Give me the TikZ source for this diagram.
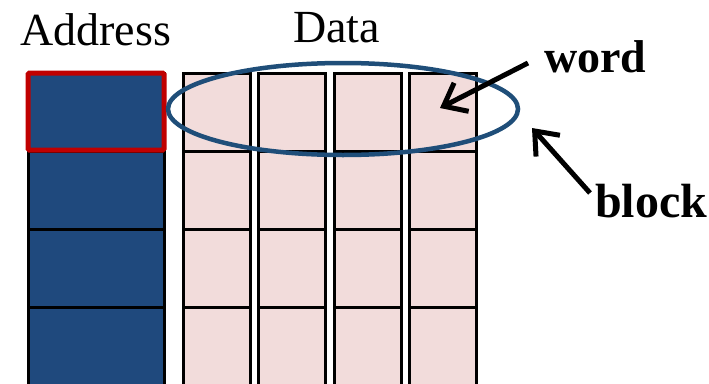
\documentclass[tikz,border=0pt]{standalone}
\usepackage{fontspec}
\setmainfont{Liberation Serif}
\usetikzlibrary{arrows.meta,shapes.geometric}
\definecolor{addrblue}{HTML}{1F497D}
\definecolor{ringblue}{HTML}{1F4E79}
\definecolor{cellpink}{HTML}{F2DCDB}
\definecolor{selred}{HTML}{C00000}
\tikzset{
  addrcell/.style={draw=black, line width=3pt, fill=addrblue, minimum width=136pt, minimum height=78pt, inner sep=0pt},
  datacell/.style={draw=black, line width=3pt, fill=cellpink, minimum width=67pt, minimum height=78pt, inner sep=0pt},
  selbox/.style={draw=selred, line width=5pt, rounded corners=1.5pt, minimum width=136pt, minimum height=77pt, inner sep=0pt},
  ring/.style={ellipse, draw=ringblue, line width=4.5pt, minimum width=350pt, minimum height=92pt, inner sep=0pt},
  pointer/.style={draw=black, line width=5pt, -{Straight Barb[length=20pt,width=32pt]}},
  head/.style={font=\fontsize{46}{50}\selectfont, inner sep=0pt},
  tag/.style={font=\fontsize{46}{50}\selectfont\bfseries, inner sep=0pt}
}
\begin{document}
\begin{tikzpicture}[x=1pt,y=-1pt]
\useasboundingbox (0,0) rectangle (709,383);
% address column
\foreach \j/\yc in {1/112,2/190,3/268,4/346}{
  \node[addrcell] (a-\j) at (96,\yc) {};
}
% data columns
\foreach \i/\xc in {1/216.5,2/291.5,3/367.5,4/443}{
  \foreach \j/\yc in {1/112,2/190,3/268,4/346}{
    \node[datacell] (d-\i-\j) at (\xc,\yc) {};
  }
}
% selected address
\node[selbox] (sel) at (96,111.5) {};
% block ring
\node[ring] (blk) at (343,109) {};
% labels
\node[head, anchor=base west] (addr) at (20,45) {Address};
\node[head, anchor=base west] (data) at (293,42) {Data};
\node[tag, anchor=base west] (word) at (544,72) {word};
\node[tag, anchor=base west, font=\fontsize{48}{52}\selectfont\bfseries] (block) at (595,217) {block};
% arrows
\coordinate (wtail) at (528,63);
\coordinate (wtip) at (440,108);
\coordinate (btail) at (590,193);
\coordinate (btip) at (532,128);
\draw[pointer] (wtail) -- (wtip);
\draw[pointer] (btail) -- (btip);
\end{tikzpicture}
\end{document}
